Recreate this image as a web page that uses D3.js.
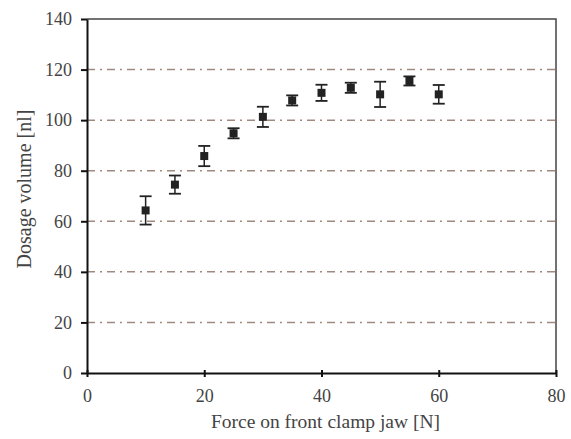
<!DOCTYPE html>
<html>
<head>
<meta charset="utf-8">
<script src="https://cdn.jsdelivr.net/npm/d3@7"></script>
<style>
  body { margin: 0; background: #fff; }
  svg { font-family: "Liberation Serif", "DejaVu Serif", serif; }
</style>
</head>
<body>
<svg id="chart" width="571" height="439"></svg>
<script>
'use strict';

var forces = [10, 15, 20, 25, 30, 35, 40, 45, 50, 55, 60];
var volumes = [64.3, 74.5, 85.8, 94.8, 101.3, 107.8, 110.8, 112.8, 110.2, 115.5, 110.2];
var errors = [5.6, 3.6, 4.0, 2.0, 4.0, 2.0, 3.2, 2.0, 5.0, 1.8, 3.7];
var xTicks = [0, 20, 40, 60, 80];
var yTicks = [0, 20, 40, 60, 80, 100, 120, 140];
var gridValues = [20, 40, 60, 80, 100, 120];

var svg = d3.select('#chart');
var margin = {left: 87, right: 15, top: 19, bottom: 66};
var width = 571 - margin.left - margin.right;
var height = 439 - margin.top - margin.bottom;

var xscale = d3.scaleLinear().domain([0, 80]).range([0, width]);
var yscale = d3.scaleLinear().domain([0, 140]).range([height, 0]);

var g = svg.append('g').attr('transform', 'translate(' + margin.left + ',' + margin.top + ')');

// dash-dot grid lines
g.selectAll('line.grid').data(gridValues).enter().append('line')
    .attr('class', 'grid')
    .attr('x1', 0).attr('x2', width)
    .attr('y1', function (d) { return yscale(d); })
    .attr('y2', function (d) { return yscale(d); })
    .attr('stroke', '#a08a80').attr('stroke-width', 1.5)
    .attr('stroke-dasharray', '8,5,2,5');

// frame top and right
g.append('path')
    .attr('d', 'M0,0H' + width + 'V' + height)
    .attr('fill', 'none').attr('stroke', '#444').attr('stroke-width', 1.5);

var xAxis = g.append('g').attr('transform', 'translate(0,' + height + ')')
    .call(d3.axisBottom(xscale).tickValues(xTicks).tickSizeInner(4).tickSizeOuter(0).tickPadding(12));
var yAxis = g.append('g')
    .call(d3.axisLeft(yscale).tickValues(yTicks).tickSizeInner(5).tickSizeOuter(0).tickPadding(10));

[xAxis, yAxis].forEach(function (ax) {
    ax.select('.domain').attr('stroke', '#111').attr('stroke-width', 2);
    ax.selectAll('.tick line').attr('stroke', '#111').attr('stroke-width', 2);
    ax.selectAll('.tick text').attr('fill', '#444').style('font-size', '18px')
        .style('font-family', '"Liberation Serif", serif');
});
// ticks crossing into the plot
xAxis.selectAll('.tick line').attr('y1', -3);
yAxis.selectAll('.tick line').attr('x1', 0).attr('x2', -6);

// error bars
var pts = g.selectAll('g.pt').data(forces).enter().append('g').attr('class', 'pt');
pts.append('line')
    .attr('x1', function (d) { return xscale(d); })
    .attr('x2', function (d) { return xscale(d); })
    .attr('y1', function (d, i) { return yscale(volumes[i] + errors[i]); })
    .attr('y2', function (d, i) { return yscale(volumes[i] - errors[i]); })
    .attr('stroke', '#222').attr('stroke-width', 1.5);
[1, -1].forEach(function (s) {
    pts.append('line')
        .attr('x1', function (d) { return xscale(d) - 6; })
        .attr('x2', function (d) { return xscale(d) + 6; })
        .attr('y1', function (d, i) { return yscale(volumes[i] + s * errors[i]); })
        .attr('y2', function (d, i) { return yscale(volumes[i] + s * errors[i]); })
        .attr('stroke', '#222').attr('stroke-width', 1.8);
});
pts.append('rect')
    .attr('x', function (d) { return xscale(d) - 4; })
    .attr('y', function (d, i) { return yscale(volumes[i]) - 4; })
    .attr('width', 8).attr('height', 8)
    .attr('fill', '#222');

// axis titles
svg.append('text')
    .attr('x', margin.left + xscale(40) + 4).attr('y', 428)
    .attr('text-anchor', 'middle').attr('fill', '#444')
    .style('font-size', '19.5px')
    .text('Force on front clamp jaw [N]');
svg.append('text')
    .attr('transform', 'translate(31,189) rotate(-90)')
    .attr('text-anchor', 'middle').attr('fill', '#444')
    .style('font-size', '20px')
    .text('Dosage volume [nl]');
</script>
</body>
</html>
